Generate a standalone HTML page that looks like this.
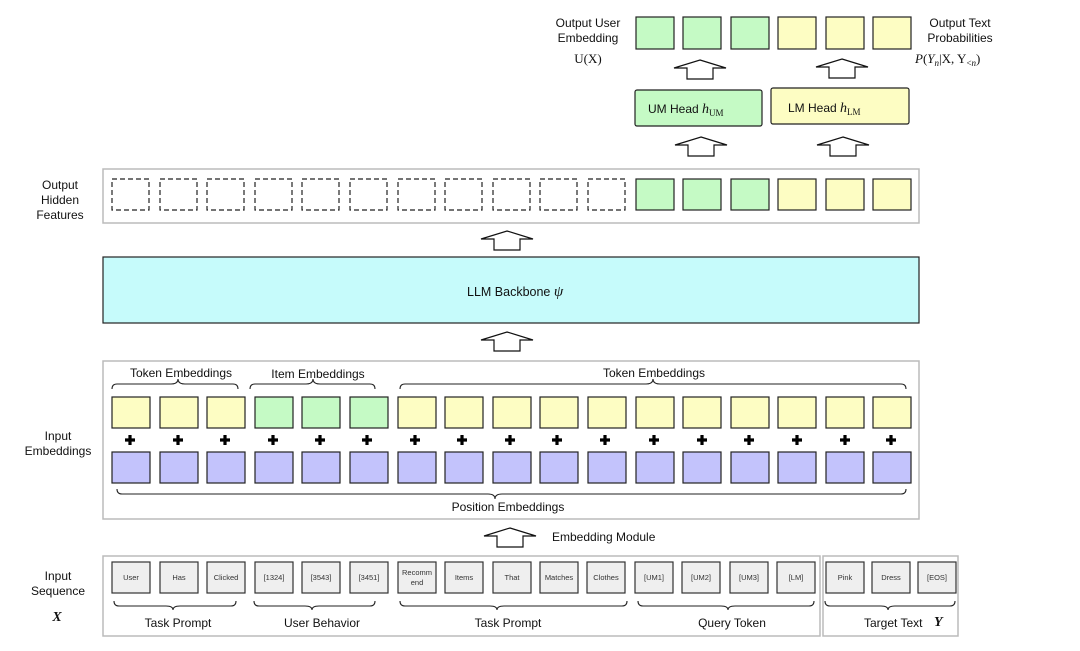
<!DOCTYPE html>
<html><head><meta charset="utf-8"><style>
html,body{margin:0;padding:0;background:#fff}
svg{display:block}
text{font-family:"Liberation Sans",sans-serif;fill:#111}
.m{font-family:"Liberation Serif",serif}
.t{font-size:7.5px;fill:#333}
</style></head><body>
<svg width="1080" height="651" viewBox="0 0 1080 651" xmlns="http://www.w3.org/2000/svg">
<defs>
<symbol id="arr" overflow="visible"><path d="M0,0 L26,8 L13,8 L13,19 L-13,19 L-13,8 L-26,8 Z" fill="#fff" stroke="#111" stroke-width="1.2"/></symbol>
<g id="pl"><path d="M-1.6,-5 h3.2 v3.4 h3.4 v3.2 h-3.4 v3.4 h-3.2 v-3.4 h-3.4 v-3.2 h3.4 z" fill="#000"/></g>
</defs>

<g stroke="#222" stroke-width="1.2">
<rect x="636" y="17" width="38" height="32" fill="#c5fac5"/>
<rect x="683" y="17" width="38" height="32" fill="#c5fac5"/>
<rect x="731" y="17" width="38" height="32" fill="#c5fac5"/>
<rect x="778" y="17" width="38" height="32" fill="#fdfdc3"/>
<rect x="826" y="17" width="38" height="32" fill="#fdfdc3"/>
<rect x="873" y="17" width="38" height="32" fill="#fdfdc3"/>
<rect x="635" y="90" width="127" height="36" rx="2" fill="#c5fac5"/>
<rect x="771" y="88" width="138" height="36" rx="2" fill="#fdfdc3"/>
</g>
<text x="588" y="27" font-size="12" text-anchor="middle">Output User</text>
<text x="588" y="42" font-size="12" text-anchor="middle">Embedding</text>
<text x="588" y="63" font-size="13" text-anchor="middle" class="m">U(X)</text>
<text x="960" y="27" font-size="12" text-anchor="middle">Output Text</text>
<text x="960" y="42" font-size="12" text-anchor="middle">Probabilities</text>
<text x="915" y="63" font-size="13" class="m"><tspan font-style="italic">P</tspan>(<tspan font-style="italic">Y</tspan><tspan font-size="9" dy="3" font-style="italic">n</tspan><tspan dy="-3">|X, Y</tspan><tspan font-size="9" dy="3">&lt;<tspan font-style="italic">n</tspan></tspan><tspan dy="-3">)</tspan></text>
<text x="648" y="113" font-size="12">UM Head <tspan class="m" font-style="italic" font-size="14">h</tspan><tspan class="m" font-size="9" dy="3">UM</tspan></text>
<text x="788" y="112" font-size="12">LM Head <tspan class="m" font-style="italic" font-size="14">h</tspan><tspan class="m" font-size="9" dy="3">LM</tspan></text>

<use href="#arr" x="700" y="60"/>
<use href="#arr" x="842" y="59"/>
<use href="#arr" x="701" y="137"/>
<use href="#arr" x="843" y="137"/>

<rect x="103" y="169" width="816" height="54" fill="#fff" stroke="#bbb" stroke-width="1.5"/>
<text x="60" y="189" font-size="12" text-anchor="middle">Output</text>
<text x="60" y="204" font-size="12" text-anchor="middle">Hidden</text>
<text x="60" y="219" font-size="12" text-anchor="middle">Features</text>
<g fill="none" stroke="#222" stroke-width="1.2" stroke-dasharray="5,3">
<rect x="112" y="179" width="37" height="31"/><rect x="160" y="179" width="37" height="31"/><rect x="207" y="179" width="37" height="31"/><rect x="255" y="179" width="37" height="31"/><rect x="302" y="179" width="37" height="31"/><rect x="350" y="179" width="37" height="31"/><rect x="398" y="179" width="37" height="31"/><rect x="445" y="179" width="37" height="31"/><rect x="493" y="179" width="37" height="31"/><rect x="540" y="179" width="37" height="31"/><rect x="588" y="179" width="37" height="31"/>
</g>
<g stroke="#222" stroke-width="1.2">
<rect x="636" y="179" width="38" height="31" fill="#c5fac5"/>
<rect x="683" y="179" width="38" height="31" fill="#c5fac5"/>
<rect x="731" y="179" width="38" height="31" fill="#c5fac5"/>
<rect x="778" y="179" width="38" height="31" fill="#fdfdc3"/>
<rect x="826" y="179" width="38" height="31" fill="#fdfdc3"/>
<rect x="873" y="179" width="38" height="31" fill="#fdfdc3"/>
</g>

<use href="#arr" x="507" y="231"/>
<rect x="103" y="257" width="816" height="66" fill="#c6fbfb" stroke="#222" stroke-width="1.2"/>
<text x="467" y="296" font-size="12.5">LLM Backbone <tspan class="m" font-style="italic" font-size="15">ψ</tspan></text>
<use href="#arr" x="507" y="332"/>

<rect x="103" y="361" width="816" height="158" fill="#fff" stroke="#bbb" stroke-width="1.5"/>
<text x="58" y="440" font-size="12" text-anchor="middle">Input</text>
<text x="58" y="455" font-size="12" text-anchor="middle">Embeddings</text>
<text x="181" y="377" font-size="12" text-anchor="middle">Token Embeddings</text>
<text x="318" y="378" font-size="12" text-anchor="middle">Item Embeddings</text>
<text x="654" y="377" font-size="12" text-anchor="middle">Token Embeddings</text>
<g fill="none" stroke="#222" stroke-width="1.1">
<path d="M112,389 Q112,384 117,384 L171,384 Q178,384 178,379 Q178,384 185,384 L233,384 Q238,384 238,389"/>
<path d="M250,389 Q250,384 255,384 L306,384 Q313,384 313,379 Q313,384 320,384 L370,384 Q375,384 375,389"/>
<path d="M400,389 Q400,384 405,384 L646,384 Q653,384 653,379 Q653,384 660,384 L901,384 Q906,384 906,389"/>
<path d="M117,489 Q117,494 122,494 L488,494 Q495,494 495,499 Q495,494 502,494 L901,494 Q906,494 906,489"/>
</g>
<text x="508" y="511" font-size="12" text-anchor="middle">Position Embeddings</text>
<g stroke="#222" stroke-width="1.2" fill="#fdfdc3">
<rect x="112" y="397" width="38" height="31"/><rect x="160" y="397" width="38" height="31"/><rect x="207" y="397" width="38" height="31"/>
<rect x="255" y="397" width="38" height="31" fill="#c5fac5"/><rect x="302" y="397" width="38" height="31" fill="#c5fac5"/><rect x="350" y="397" width="38" height="31" fill="#c5fac5"/>
<rect x="398" y="397" width="38" height="31"/><rect x="445" y="397" width="38" height="31"/><rect x="493" y="397" width="38" height="31"/><rect x="540" y="397" width="38" height="31"/><rect x="588" y="397" width="38" height="31"/><rect x="636" y="397" width="38" height="31"/><rect x="683" y="397" width="38" height="31"/><rect x="731" y="397" width="38" height="31"/><rect x="778" y="397" width="38" height="31"/><rect x="826" y="397" width="38" height="31"/><rect x="873" y="397" width="38" height="31"/>
</g>
<g stroke="#222" stroke-width="1.2" fill="#c3c3fc">
<rect x="112" y="452" width="38" height="31"/><rect x="160" y="452" width="38" height="31"/><rect x="207" y="452" width="38" height="31"/><rect x="255" y="452" width="38" height="31"/><rect x="302" y="452" width="38" height="31"/><rect x="350" y="452" width="38" height="31"/><rect x="398" y="452" width="38" height="31"/><rect x="445" y="452" width="38" height="31"/><rect x="493" y="452" width="38" height="31"/><rect x="540" y="452" width="38" height="31"/><rect x="588" y="452" width="38" height="31"/><rect x="636" y="452" width="38" height="31"/><rect x="683" y="452" width="38" height="31"/><rect x="731" y="452" width="38" height="31"/><rect x="778" y="452" width="38" height="31"/><rect x="826" y="452" width="38" height="31"/><rect x="873" y="452" width="38" height="31"/>
</g>
<g>
<use href="#pl" x="130" y="440"/><use href="#pl" x="178" y="440"/><use href="#pl" x="225" y="440"/><use href="#pl" x="273" y="440"/><use href="#pl" x="320" y="440"/><use href="#pl" x="367" y="440"/><use href="#pl" x="415" y="440"/><use href="#pl" x="462" y="440"/><use href="#pl" x="510" y="440"/>
<use href="#pl" x="557" y="440"/><use href="#pl" x="605" y="440"/><use href="#pl" x="654" y="440"/><use href="#pl" x="702" y="440"/><use href="#pl" x="749" y="440"/><use href="#pl" x="797" y="440"/><use href="#pl" x="845" y="440"/><use href="#pl" x="891" y="440"/>
</g>

<use href="#arr" x="510" y="528"/>
<text x="552" y="541" font-size="12">Embedding Module</text>

<rect x="103" y="556" width="717" height="80" fill="#fff" stroke="#bbb" stroke-width="1.5"/>
<rect x="823" y="556" width="135" height="80" fill="#fff" stroke="#bbb" stroke-width="1.5"/>
<text x="58" y="580" font-size="12" text-anchor="middle">Input</text>
<text x="58" y="595" font-size="12" text-anchor="middle">Sequence</text>
<text x="57" y="621" font-size="14" text-anchor="middle" class="m" font-style="italic" font-weight="bold">X</text>
<g stroke="#333" stroke-width="1.2" fill="#efefef">
<rect x="112" y="562" width="38" height="31"/><rect x="160" y="562" width="38" height="31"/><rect x="207" y="562" width="38" height="31"/><rect x="255" y="562" width="38" height="31"/><rect x="302" y="562" width="38" height="31"/><rect x="350" y="562" width="38" height="31"/><rect x="398" y="562" width="38" height="31"/><rect x="445" y="562" width="38" height="31"/><rect x="493" y="562" width="38" height="31"/><rect x="540" y="562" width="38" height="31"/><rect x="587" y="562" width="38" height="31"/><rect x="635" y="562" width="38" height="31"/><rect x="682" y="562" width="38" height="31"/><rect x="730" y="562" width="38" height="31"/><rect x="777" y="562" width="38" height="31"/>
<rect x="826" y="562" width="38" height="31"/><rect x="872" y="562" width="38" height="31"/><rect x="918" y="562" width="38" height="31"/>
</g>
<g text-anchor="middle">
<text x="131" y="580" class="t">User</text><text x="179" y="580" class="t">Has</text><text x="226" y="580" class="t">Clicked</text>
<text x="274" y="580" class="t">[1324]</text><text x="321" y="580" class="t">[3543]</text><text x="369" y="580" class="t">[3451]</text>
<text x="417" y="575" class="t">Recomm</text><text x="417" y="585" class="t">end</text>
<text x="464" y="580" class="t">Items</text><text x="512" y="580" class="t">That</text><text x="559" y="580" class="t">Matches</text><text x="606" y="580" class="t">Clothes</text>
<text x="654" y="580" class="t">[UM1]</text><text x="701" y="580" class="t">[UM2]</text><text x="749" y="580" class="t">[UM3]</text><text x="796" y="580" class="t">[LM]</text>
<text x="845" y="580" class="t">Pink</text><text x="891" y="580" class="t">Dress</text><text x="937" y="580" class="t">[EOS]</text>
</g>
<g fill="none" stroke="#222" stroke-width="1.1">
<path d="M114,601 Q114,606 119,606 L166,606 Q173,606 173,610 Q173,606 180,606 L231,606 Q236,606 236,601"/>
<path d="M254,601 Q254,606 259,606 L305,606 Q312,606 312,610 Q312,606 319,606 L370,606 Q375,606 375,601"/>
<path d="M400,601 Q400,606 405,606 L490,606 Q497,606 497,610 Q497,606 504,606 L622,606 Q627,606 627,601"/>
<path d="M638,601 Q638,606 643,606 L721,606 Q728,606 728,610 Q728,606 735,606 L809,606 Q814,606 814,601"/>
<path d="M825,601 Q825,606 830,606 L881,606 Q888,606 888,610 Q888,606 895,606 L950,606 Q955,606 955,601"/>
</g>
<text x="178" y="627" font-size="12" text-anchor="middle">Task Prompt</text>
<text x="322" y="627" font-size="12" text-anchor="middle">User Behavior</text>
<text x="508" y="627" font-size="12" text-anchor="middle">Task Prompt</text>
<text x="732" y="627" font-size="12" text-anchor="middle">Query Token</text>
<text x="864" y="627" font-size="12">Target Text</text>
<text x="934" y="626" font-size="14" class="m" font-style="italic" font-weight="bold">Y</text>
</svg>
</body></html>
